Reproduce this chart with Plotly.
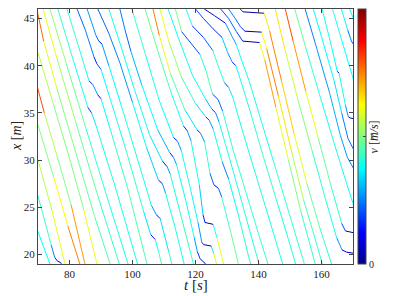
import plotly.graph_objects as go
from plotly.colors import sample_colorscale

# MATLAB-like jet colour map, speed range 0..2 m/s
JET = [
    [0.0, "rgb(0,0,143)"],
    [0.125, "rgb(0,0,255)"],
    [0.375, "rgb(0,255,255)"],
    [0.625, "rgb(255,255,0)"],
    [0.875, "rgb(255,0,0)"],
    [1.0, "rgb(128,0,0)"],
]
V_MIN, V_MAX = 0.0, 2.0

# vehicle trajectories: time [s], position [m], speed per segment [m/s]
veh_t = [
    [66, 70, 73.8, 76],
    [66, 70, 74.2, 75.3, 76.2, 77.2, 78.2],
    [66, 70, 74.5, 78.6, 80],
    [66, 70, 75, 79.5, 83.3, 84.5],
    [66, 70, 72, 76, 80.5, 84.9, 86],
    [66, 70, 75, 80, 84.5, 88.7, 90],
    [68.5, 70, 71.8, 76, 82, 88, 92.9, 94],
    [71.6, 76, 82, 89, 95.8, 97],
    [73.8, 79, 85, 92, 98.6, 100],
    [76.3, 81, 85.8, 87, 88.5, 94.5, 101.6, 103],
    [79.2, 83, 86.2, 87.4, 89, 90, 93, 98.5, 104.6, 106],
    [82.4, 85, 87.8, 88.7, 90, 93, 98, 103.5, 105.8, 107.2, 108.3, 109.2, 110.5],
    [85.6, 88.4, 89.3, 90.3, 92.5, 96.5, 101.5, 106, 107.6, 108.8, 111.5, 112.5, 114],
    [89, 92.5, 96, 100, 104.5, 108.2, 109.5, 110.5, 113.5, 116.4, 117.6],
    [92.5, 96, 100.5, 105.5, 109.5, 111.0, 112.0, 115, 117.8, 119.2, 120.4],
    [96, 97.7, 99.5, 103, 108, 111.8, 113.0, 114.0, 117, 119.6, 120.6, 121.4, 122.2, 123, 124],
    [99.8, 104, 108.5, 113.0, 114.3, 115.5, 118.5, 120.8, 122.0, 122.6, 125.0, 125.8, 127],
    [104, 108, 112.2, 116.2, 117.4, 118.6, 121.2, 122.4, 123, 125.6, 126.8, 128.7, 129.8],
    [106.5, 108.5, 112, 116.5, 120.5, 121.7, 122.9, 124.6, 125.8, 127.3, 128.3, 130.8, 133.4, 134.6],
    [108.7, 111.5, 115.5, 120, 123.2, 124.4, 125.6, 128.5, 130.5, 133.6, 137, 137.8],
    [111.3, 114.6, 119, 123.3, 125.2, 126.4, 127.5, 130.8, 134.5, 138.8, 140.2, 141.5],
    [113.6, 115.6, 121.4, 123.4, 125.4, 127.2, 128.6, 132, 136, 140, 143, 144.5],
    [117, 119, 122.5, 125.5, 127.6, 129.2, 130.5, 131.8, 135, 139, 143, 147.5, 148.5],
    [120, 122.5, 125.6, 128.4, 130.2, 131.6, 132.8, 134, 137.5, 141.5, 145.5, 149.5, 151.8, 153],
    [122.8, 126, 129.5, 131.6, 133.0, 134.4, 137, 141, 145, 149.5, 154.2, 155],
    [128, 130.5, 133, 135, 140.3, 142, 145.5, 149.5, 153.5, 156.8, 158, 159],
    [130.5, 132.6, 134.3, 135.7, 141.0, 142.6, 146.3, 150.3, 154.3, 157.5, 160, 161.3],
    [133.6, 135.1, 141.8, 143.5, 147.3, 151.3, 155.3, 159.3, 163, 164.5],
    [145.3, 148.5, 152.5, 157, 161.5, 164.8, 166.5, 168, 171],
    [148.5, 151, 155, 159, 163, 166.4, 167.6, 171],
    [151.5, 155, 159.5, 164, 168, 171],
    [154.8, 158, 162.5, 166, 168.2, 171],
    [157.4, 160.4, 164, 166.4, 168.4, 171],
    [160.2, 163.2, 165.0, 165.6, 167.6, 168.5, 169.2, 171],
    [163.5, 166.5, 169, 171],
    [166.3, 168.3, 169.5, 171],
    [168.9, 170, 171],
]
veh_x = [
    [26.6, 22.4, 19.0, 17.0],
    [30.4, 26.2, 21.0, 19.7, 19.3, 19.15, 18.4],
    [34.2, 30.0, 24.6, 19.0, 17.2],
    [38.0, 33.7, 28.2, 23.0, 19.0, 17.8],
    [42.0, 37.5, 35.0, 30.5, 25.3, 19.0, 17.5],
    [46.0, 41.4, 35.8, 30.2, 24.8, 19.0, 17.4],
    [47.8, 45.4, 42.6, 37.6, 30.8, 24.0, 19.0, 17.8],
    [46, 40.8, 34.0, 26.2, 19, 17.7],
    [46, 40.2, 33.6, 26.0, 19, 17.5],
    [46, 40.8, 35.6, 35.0, 33.6, 27.2, 19, 17.5],
    [46, 41.9, 38.4, 38.0, 36.9, 36.5, 33.2, 27, 19, 17.4],
    [46, 43.8, 40.9, 40.2, 39.6, 36.4, 31, 24.6, 22.1, 21.6, 20.3, 19, 17.3],
    [46, 43.2, 42.6, 42.3, 40.0, 35.7, 30.2, 25.2, 24.2, 23.8, 20.3, 19, 17],
    [46, 43.4, 40.3, 36.1, 31.3, 27.9, 27.5, 26.5, 22.9, 19, 17.5],
    [46, 42.4, 37.6, 32.6, 29.9, 29.3, 28.5, 24.6, 21.0, 19.2, 17.6],
    [46, 43.7, 41.5, 37.9, 33.2, 30.8, 30.3, 29.5, 25.6, 21.8, 20.3, 19.6, 19.3, 19.1, 18.3],
    [46, 41.3, 36.3, 32.4, 32.0, 31.0, 26.8, 23.4, 21.3, 21.05, 20.9, 20.1, 18.6],
    [46, 41.6, 37.2, 33.6, 33.1, 32.0, 27.4, 24.2, 23.4, 23.2, 21.8, 19.3, 17.8],
    [46, 43.2, 39.2, 35.4, 33.2, 32.8, 31.9, 28.6, 27.4, 27.0, 26.1, 22.9, 19.3, 17.7],
    [46, 42.6, 38.8, 36.0, 34.6, 34.2, 33.3, 29.8, 28.0, 24.2, 19.6, 18.6],
    [46, 42.9, 39.0, 36.4, 35.4, 35.0, 34.0, 30.2, 25.8, 20.6, 19.0, 17.5],
    [46, 43.6, 41.2, 39.4, 37.0, 36.4, 35.2, 31.0, 26.6, 22.2, 19.0, 17.4],
    [46, 44.2, 43.0, 41.6, 39.6, 38.2, 37.7, 36.7, 33.0, 28.6, 24.2, 19.2, 18.1],
    [46, 45.0, 43.9, 43.0, 41.4, 40.4, 40.0, 38.8, 35.0, 30.4, 26.0, 21.6, 19.0, 17.6],
    [46, 45.3, 44.5, 43.1, 42.2, 40.8, 38.4, 34.0, 29.6, 24.6, 19.4, 18.5],
    [46, 45.0, 43.6, 42.6, 42.45, 40.6, 35.6, 30.0, 24.5, 20.5, 19.0, 17.7],
    [46, 45.0, 44.1, 43.65, 43.55, 41.8, 36.8, 31.2, 25.8, 22.2, 19.3, 17.6],
    [46.2, 45.7, 45.55, 43.7, 38.4, 32.8, 27.6, 23.0, 19.2, 17.5],
    [46, 41.6, 36.4, 31.0, 25.6, 21.8, 20.5, 20.25, 20.1],
    [46, 42.6, 37.3, 32.3, 27.3, 23.3, 22.5, 22.25],
    [46, 41.9, 36.8, 31.8, 27.5, 24.4],
    [46, 42.4, 37.2, 32.6, 30.3, 28.6],
    [46, 42.6, 38.4, 35.0, 32.3, 30.6],
    [46, 42.0, 39.4, 39.2, 35.8, 34.6, 34.45, 34.35],
    [46, 42.6, 39.8, 37.6],
    [46, 43.8, 42.6, 41.8],
    [46, 45.1, 44.4],
]
veh_v = [
    [0.75, 0.75, 0.75],
    [0.9, 0.85, 0.5, 0.3, 0.1, 0.35],
    [1.05, 1.1, 1.2, 1.2],
    [1.0, 1.0, 1.25, 1.5, 1.5],
    [1.7, 1.6, 1.1, 1.0, 1.45, 1.55],
    [1.2, 1.1, 1.0, 1.0, 1.2, 1.25],
    [1.6, 1.55, 1.2, 1.0, 0.95, 0.9, 0.9],
    [1.2, 1.05, 0.95, 0.85, 0.85],
    [1.05, 0.95, 0.85, 0.8, 0.8],
    [0.85, 0.8, 0.35, 0.7, 0.8, 0.8, 0.8],
    [0.85, 0.8, 0.3, 0.55, 0.25, 0.75, 0.85, 0.9, 0.9],
    [0.45, 0.5, 0.3, 0.4, 0.75, 0.8, 0.85, 0.7, 0.25, 0.75, 0.9, 0.9],
    [0.55, 0.45, 0.2, 0.55, 0.75, 0.8, 0.8, 0.55, 0.25, 0.7, 0.85, 0.85],
    [0.45, 0.5, 0.55, 0.75, 0.65, 0.25, 0.55, 0.8, 0.8, 0.8],
    [0.8, 0.78, 0.78, 0.7, 0.3, 0.55, 0.8, 0.85, 0.85, 0.85],
    [0.5, 0.45, 0.6, 0.75, 0.6, 0.3, 0.55, 0.78, 0.78, 0.55, 0.35, 0.2, 0.15, 0.4],
    [0.85, 0.8, 0.75, 0.3, 0.55, 0.8, 0.75, 0.55, 0.3, 0.08, 0.7, 1.2],
    [0.95, 0.9, 0.8, 0.3, 0.55, 0.8, 0.65, 0.3, 0.08, 0.8, 1.2, 1.2],
    [1.5, 1.2, 0.9, 0.7, 0.3, 0.55, 0.85, 0.45, 0.25, 0.45, 0.85, 0.95, 0.95],
    [1.2, 1.05, 0.85, 0.7, 0.3, 0.55, 0.8, 0.5, 0.75, 0.82, 0.82],
    [0.78, 0.78, 0.75, 0.6, 0.3, 0.55, 0.8, 0.8, 0.8, 0.8, 0.8],
    [1.0, 0.4, 0.8, 0.9, 0.35, 0.45, 0.85, 0.85, 0.85, 0.85, 0.85],
    [0.8, 0.35, 0.45, 0.85, 0.8, 0.38, 0.7, 0.8, 0.8, 0.8, 0.8, 0.8],
    [0.4, 0.35, 0.32, 0.65, 0.55, 0.3, 0.75, 0.8, 0.85, 0.85, 0.8, 0.8, 0.8],
    [0.25, 0.25, 0.55, 0.55, 0.75, 0.78, 0.8, 0.8, 0.85, 0.85, 0.85],
    [0.4, 0.45, 0.35, 0.05, 1.2, 1.45, 1.2, 1.0, 0.85, 0.85, 0.85],
    [0.5, 0.45, 0.3, 0.05, 1.25, 1.5, 1.3, 1.1, 0.9, 0.85, 0.85],
    [0.3, 0.05, 1.3, 1.5, 1.35, 1.2, 0.95, 0.85, 0.85],
    [1.3, 1.15, 1.0, 0.85, 0.8, 0.55, 0.2, 0.05],
    [1.6, 1.45, 1.2, 0.95, 0.85, 0.4, 0.05],
    [0.95, 0.85, 0.8, 0.8, 0.75],
    [0.5, 0.55, 0.6, 0.55, 0.5],
    [0.75, 0.75, 0.7, 0.5, 0.45],
    [0.8, 0.75, 0.1, 0.8, 0.55, 0.15, 0.05],
    [0.8, 0.75, 0.75],
    [0.75, 0.5, 0.4],
    [0.75, 0.75],
]

x_ticks = [80, 100, 120, 140, 160]
y_ticks = [20, 25, 30, 35, 40, 45]
cbar_ticks = [0, 1, 2]

SERIF = "Liberation Serif, Times New Roman, serif"
AXIS_COLOR = "#444444"
TEXT_COLOR = "#222222"

fig = go.Figure()

# one trace per colour, segments separated by None
groups = {}
for ts, xs, vs in zip(veh_t, veh_x, veh_v):
    for i in range(len(ts) - 1):
        v = vs[min(i, len(vs) - 1)]
        frac = min(max((v - V_MIN) / (V_MAX - V_MIN), 0.0), 1.0)
        col = sample_colorscale(JET, [frac])[0]
        gx, gy = groups.setdefault(col, ([], []))
        gx += [ts[i], ts[i + 1], None]
        gy += [xs[i], xs[i + 1], None]

for col, (gx, gy) in groups.items():
    fig.add_trace(
        go.Scatter(
            x=gx,
            y=gy,
            mode="lines",
            line=dict(color=col, width=1.0),
            hoverinfo="skip",
            showlegend=False,
        )
    )

# invisible markers carrying the colour bar
fig.add_trace(
    go.Scatter(
        x=[ts[0] for ts in veh_t],
        y=[xs[0] for xs in veh_x],
        mode="markers",
        marker=dict(
            size=1,
            opacity=0,
            color=[vs[0] for vs in veh_v],
            colorscale=JET,
            cmin=V_MIN,
            cmax=V_MAX,
            showscale=True,
            colorbar=dict(
                x=1.016,
                xanchor="left",
                xpad=0,
                y=0.5,
                yanchor="middle",
                len=1,
                lenmode="fraction",
                ypad=0,
                thickness=8,
                thicknessmode="pixels",
                tickvals=cbar_ticks,
                ticks="inside",
                ticklen=3,
                tickcolor=AXIS_COLOR,
                tickfont=dict(family=SERIF, size=10, color=TEXT_COLOR),
                outlinewidth=1,
                outlinecolor=AXIS_COLOR,
            ),
        ),
        hoverinfo="skip",
        showlegend=False,
    )
)

# colour bar and axis titles
fig.add_annotation(
    text="<i>v</i> [<i>m/s</i>]",
    xref="paper",
    yref="paper",
    x=1.095,
    y=0.5,
    textangle=-90,
    showarrow=False,
    font=dict(family=SERIF, size=12, color=TEXT_COLOR),
)
fig.add_annotation(
    text="<i>t</i> [<i>s</i>]",
    xref="paper",
    yref="paper",
    x=0.5,
    y=0,
    yanchor="top",
    yshift=-11,
    showarrow=False,
    font=dict(family=SERIF, size=15, color=TEXT_COLOR),
)
fig.add_annotation(
    text="<i>x</i> [<i>m</i>]",
    xref="paper",
    yref="paper",
    x=0,
    y=0.5,
    xanchor="right",
    xshift=-12,
    textangle=-90,
    showarrow=False,
    font=dict(family=SERIF, size=14, color=TEXT_COLOR),
)

# the page body adds an 8 px margin, so the figure is 8 px smaller
fig.update_layout(
    width=387,
    height=288,
    margin=dict(l=30, r=42, t=1, b=32, autoexpand=False),
    paper_bgcolor="white",
    plot_bgcolor="white",
    showlegend=False,
)

fig.update_xaxes(
    range=[70, 170],
    tickvals=x_ticks,
    ticks="inside",
    ticklen=4,
    tickcolor=AXIS_COLOR,
    showgrid=False,
    zeroline=False,
    showline=True,
    linecolor=AXIS_COLOR,
    linewidth=1.2,
    mirror="ticks",
    tickfont=dict(family=SERIF, size=11, color=TEXT_COLOR),
    automargin=False,
)
fig.update_yaxes(
    range=[19, 46],
    tickvals=y_ticks,
    ticks="inside",
    ticklen=4,
    tickcolor=AXIS_COLOR,
    showgrid=False,
    zeroline=False,
    showline=True,
    linecolor=AXIS_COLOR,
    linewidth=1.2,
    mirror="ticks",
    tickfont=dict(family=SERIF, size=11, color=TEXT_COLOR),
    automargin=False,
)

fig.write_html("out.html")
